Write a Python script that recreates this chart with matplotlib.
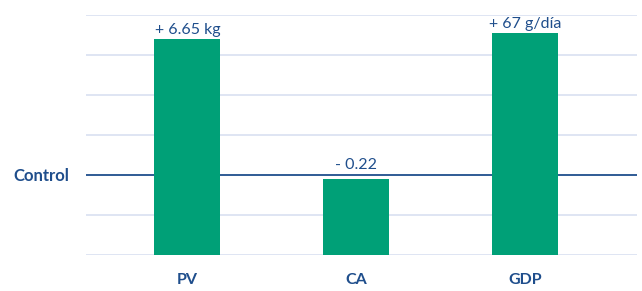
import matplotlib.pyplot as plt
import numpy as np

categories = ['PV', 'CA', 'GDP']
values = [5.39, 1.885, 5.54]
labels = ['+ 6.65 kg', '- 0.22', '+ 67 g/día']
control = 2.0

plt.rcParams['font.family'] = ['Lato', 'DejaVu Sans']
navy = '#1F4E8C'
green = '#00A077'

fig = plt.figure(figsize=(6.42, 2.91), dpi=100)
ax = fig.add_axes([0.134, 0.1247, 0.858, 0.8248])

x = np.arange(len(categories))
ax.set_ylim(0, 6)
ax.set_xlim(-0.6, 2.66)
for g in range(0, 7):
    if g != control:
        ax.axhline(g, color='#DCE3F2', lw=1.3, zorder=0)
ax.axhline(control, color=navy, lw=1.3, zorder=1)

bars = ax.bar(x, values, width=0.39, color=green, zorder=2)
for xi, v, lab in zip(x, values, labels):
    # the label sits above the control line when the bar is below it
    ax.text(xi, max(v, control) + 0.06, lab, ha='center', va='bottom',
            color=navy, fontsize=11.5)

ax.set_xticks(x)
ax.set_xticklabels(categories, fontweight='bold', color=navy, fontsize=11.5)
ax.tick_params(axis='x', length=0, pad=13)
ax.set_yticks([control])
ax.set_yticklabels(['Control'], fontweight='bold', color=navy, fontsize=12)
ax.tick_params(axis='y', length=0, pad=12)
for s in ax.spines.values():
    s.set_visible(False)

fig.savefig('out.png', dpi=100)
